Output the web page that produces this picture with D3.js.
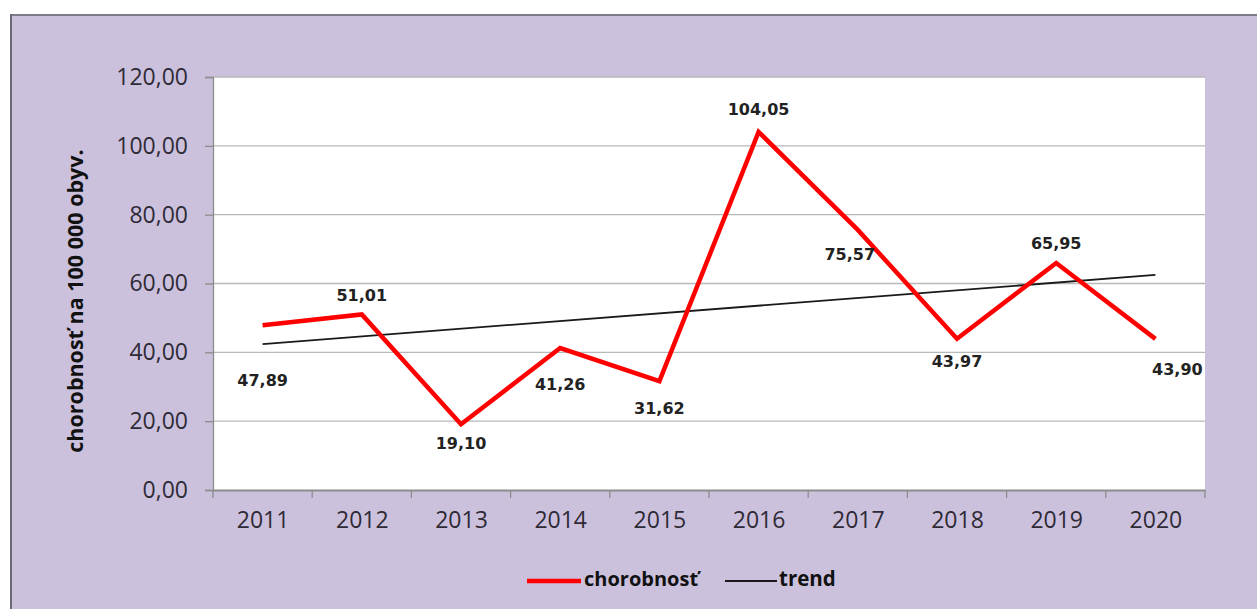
<!DOCTYPE html>
<html><head><meta charset="utf-8">
<script src="https://cdn.jsdelivr.net/npm/d3@7"></script>
<style>body{margin:0;background:#fff}svg{display:block}</style>
</head><body><svg id="c" width="1257" height="609"></svg>
<script>
const years = ["2011","2012","2013","2014","2015","2016","2017","2018","2019","2020"];
const chorobnost = [47.89, 51.01, 19.10, 41.26, 31.62, 104.05, 75.57, 43.97, 65.95, 43.90];
const trendEnds = [42.39, 62.48];
const yTicks = [0, 20, 40, 60, 80, 100, 120];
const labelOffsets = [[0,56],[0,-18],[0,20],[0,38],[0,28],[0,-21],[-8,26],[0,24],[0,-19],[22,32]];

const svg = d3.select("#c");
const W = 1257, H = 609;
svg.append("rect").attr("x",10).attr("y",14).attr("width",W-10).attr("height",H-14).attr("fill","#ccc1dd");
svg.append("line").attr("x1",10).attr("x2",W).attr("y1",15).attr("y2",15).attr("stroke","#807a88").attr("stroke-width",2);
svg.append("line").attr("x1",11).attr("x2",11).attr("y1",14).attr("y2",H).attr("stroke","#6d6875").attr("stroke-width",2);

const L = 213, R = 1205, T = 77, B = 490;
svg.append("rect").attr("x",L).attr("y",T).attr("width",R-L).attr("height",B-T).attr("fill","#fff");

const x = d3.scalePoint().domain(years).range([L,R]).padding(0.5);
const xb = d3.scaleBand().domain(years).range([L,R]);
const y = d3.scaleLinear().domain([0,120]).range([B,T]);
const fmt = v => d3.format(".2f")(v).replace(".", ",");

// gridlines
svg.append("g").selectAll("line").data(yTicks.filter(d=>d>0)).join("line")
  .attr("x1",L).attr("x2",R).attr("y1",d=>y(d)).attr("y2",d=>y(d))
  .attr("stroke","#b8b8b8").attr("stroke-width",1.3);

// y axis
const ya = svg.append("g").attr("transform",`translate(${L},0)`)
  .call(d3.axisLeft(y).tickValues(yTicks).tickSize(8).tickPadding(17).tickFormat(fmt));
ya.select(".domain").attr("stroke","#8c8c8c").attr("stroke-width",1.3);
ya.selectAll(".tick line").attr("stroke","#8c8c8c").attr("stroke-width",1.3);
ya.selectAll("text").attr("font-family","Open Sans").attr("font-size",23).attr("fill","#2e2a36");

// x axis
const xa = svg.append("g").attr("transform",`translate(0,${B})`)
  .call(d3.axisBottom(x).tickSize(0).tickPadding(22));
xa.select(".domain").attr("stroke","#8c8c8c").attr("stroke-width",1.8);
xa.selectAll("text").attr("font-family","Open Sans").attr("font-size",23).attr("fill","#2e2a36");
svg.append("g").selectAll("line").data(years.concat(["end"])).join("line")
  .attr("x1",(d,i)=>L + i*xb.step()).attr("x2",(d,i)=>L + i*xb.step())
  .attr("y1",B).attr("y2",B+8).attr("stroke","#8c8c8c").attr("stroke-width",1.3);

// trend
svg.append("line")
  .attr("x1",x(years[0])).attr("y1",y(trendEnds[0]))
  .attr("x2",x(years[years.length-1])).attr("y2",y(trendEnds[1]))
  .attr("stroke","#1a1a1a").attr("stroke-width",1.8);

// main line
svg.append("path").datum(chorobnost)
  .attr("d", d3.line().x((d,i)=>x(years[i])).y(d=>y(d)))
  .attr("fill","none").attr("stroke","#ff0000").attr("stroke-width",4.5).attr("stroke-linejoin","miter");

// labels
svg.append("g").selectAll("text").data(chorobnost).join("text")
  .attr("x",(d,i)=>x(years[i]) + labelOffsets[i][0])
  .attr("y",(d,i)=>y(d) + labelOffsets[i][1])
  .attr("text-anchor","middle").attr("dominant-baseline","middle")
  .attr("font-family","DejaVu Sans").attr("font-weight","bold").attr("font-size",16)
  .attr("fill","#222").text(d=>fmt(d));

// y title
svg.append("text").attr("transform",`translate(77,301) rotate(-90)`)
  .attr("text-anchor","middle").attr("dominant-baseline","middle")
  .attr("font-family","Open Sans").attr("font-weight","bold").attr("font-size",21.5)
  .attr("fill","#111").text("chorobnosť na 100 000 obyv.");

// legend
const lg = svg.append("g").attr("transform","translate(0,581)");
lg.append("line").attr("x1",527).attr("x2",581).attr("y1",0).attr("y2",0).attr("stroke","#ff0000").attr("stroke-width",4.5);
lg.append("text").attr("x",584).attr("y",0).attr("dominant-baseline","middle")
  .attr("font-family","Open Sans").attr("font-weight","bold").attr("font-size",20).attr("fill","#111").text("chorobnosť");
lg.append("line").attr("x1",725).attr("x2",777).attr("y1",0).attr("y2",0).attr("stroke","#1a1a1a").attr("stroke-width",1.8);
lg.append("text").attr("x",779).attr("y",0).attr("dominant-baseline","middle")
  .attr("font-family","Open Sans").attr("font-weight","bold").attr("font-size",20.5).attr("fill","#111").text("trend");
</script></body></html>
